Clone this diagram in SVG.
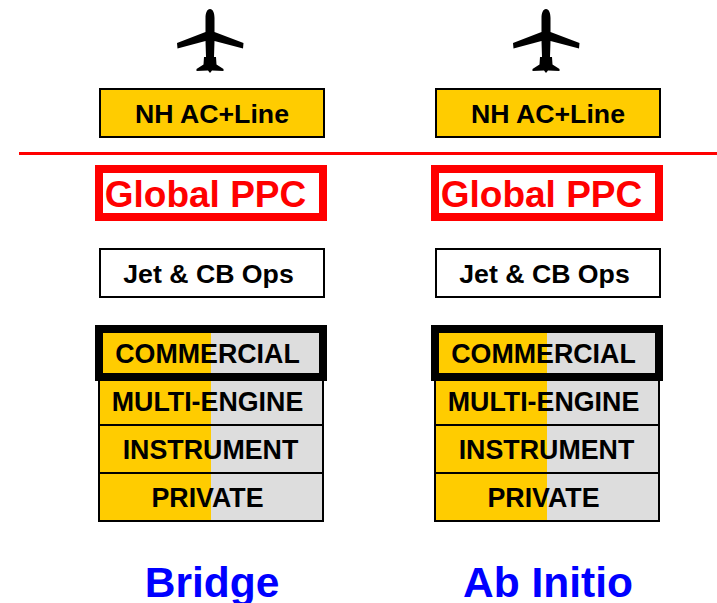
<svg xmlns="http://www.w3.org/2000/svg" width="717" height="603" viewBox="0 0 717 603">
<style>
text{font-family:"Liberation Sans",Arial,sans-serif;font-weight:700;fill:#000;text-anchor:middle}
.t{font-size:26.7px}
.ppc{font-size:37px;fill:#f00}
.lvl{font-size:26.8px}
.name{font-size:42.5px;fill:#00f}
.box{stroke:#000;stroke-width:2;fill:#fff}
.gold{fill:#fc0}
.grey{fill:#ddd}
.red{stroke:#f00;stroke-width:8;fill:#fff}
.thick{stroke:#000;stroke-width:8;fill:none}
.line{stroke:#000;stroke-width:2;fill:none}
</style>
<defs>
<path id="plane" d="M210 9C213 9 214.500 13 214.500 18L214.500 32L243.500 43L243 48.500L214.500 41L214 57L216 57L216.500 64.500L223.500 69L223.500 71L212 70.500L210 73L208 70.500L196.500 71L196.500 69L203.500 64.500L204 57L206 57L205.500 41L177.500 48.500L177 43L205.500 32L205.500 18C205.500 13 207 9 210 9Z"/>
<g id="col">
<use href="#plane"/>
<rect class="box gold" x="100" y="89" width="224" height="48"/>
<text class="t" x="212" y="123">NH AC+Line</text>
<rect class="red" x="99" y="169" width="224" height="48"/>
<text class="ppc" x="205.500" y="207">Global PPC</text>
<rect class="box" x="100" y="249" width="224" height="48"/>
<text class="t" x="208.500" y="283">Jet &amp; CB Ops</text>
<rect class="gold" x="99" y="329" width="112" height="192"/>
<rect class="grey" x="211" y="329" width="112" height="192"/>
<path class="line" d="M99 377V521H323V377M99 425H323M99 473H323"/>
<rect class="thick" x="99" y="329" width="224" height="48"/>
<text class="lvl" x="207.500" y="363">COMMERCIAL</text>
<text class="lvl" x="207.500" y="411">MULTI-ENGINE</text>
<text class="lvl" x="210.500" y="459">INSTRUMENT</text>
<text class="lvl" x="207.500" y="507">PRIVATE</text>
</g>
</defs>
<g id="connectors"><path d="M19 153.500H717" stroke="#f00" stroke-width="3" fill="none"/></g>
<g id="bridge"><use href="#col"/><text class="name" x="212" y="597">Bridge</text></g>
<g id="ab-initio"><use href="#col" x="336"/><text class="name" x="548" y="597">Ab Initio</text></g>
</svg>
